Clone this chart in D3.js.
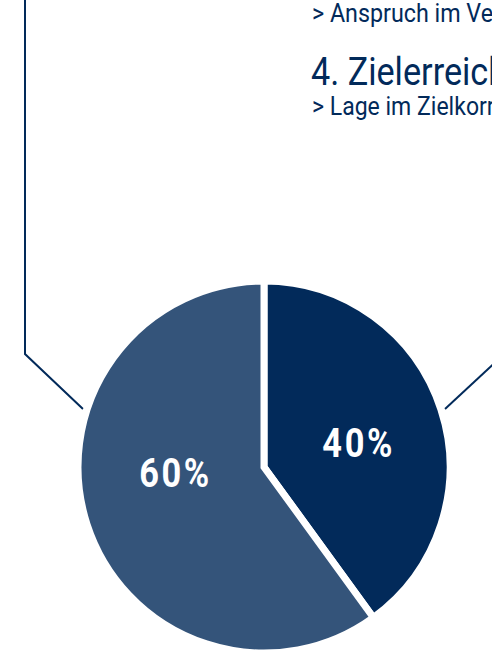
<!DOCTYPE html>
<html lang="de">
<head>
<meta charset="utf-8">
<title>Zielerreichung</title>
<script src="https://d3js.org/d3.v7.min.js"></script>
<style>
  html, body { margin: 0; padding: 0; background: #fff; }
  svg { display: block; }
  text { font-family: "Roboto", "Liberation Sans", sans-serif; }
</style>
</head>
<body>
<svg id="chart" width="492" height="650"></svg>
<script>
// data
var categories = ["Zielerreichung", "Rest"];
var values = [40, 60];
var labels = ["40%", "60%"];
var headerLines = ["> Anspruch im Vergleich", "4. Zielerreichung", "> Lage im Zielkorridor"];

var colors = ["#022a5a", "#34547a"];
var navy = "#022a5a";

var width = 492, height = 650;
var svg = d3.select("#chart");

var cx = 264, cy = 467, radius = 186;

// header text; it runs off the right edge like in the source
function header(txt, x, y, size, sx) {
  svg.append("text")
      .attr("transform", "translate(" + x + "," + y + ") scale(" + sx + ",1.04)")
      .attr("font-size", size)
      .attr("fill", navy)
      .text(txt);
}
header(headerLines[0], 312, 22, 24, 0.97);
header(headerLines[1], 311, 85, 38, 0.9);
header(headerLines[2], 312, 115, 24, 0.96);

// connector lines
var line = d3.line();
svg.append("path")
    .attr("d", line([[25, 0], [25, 354], [83, 409]]))
    .attr("fill", "none").attr("stroke", navy).attr("stroke-width", 2);
svg.append("path")
    .attr("d", line([[445, 409], [500, 358]]))
    .attr("fill", "none").attr("stroke", navy).attr("stroke-width", 2);

var pie = d3.pie().sort(null).value(function(d) { return d; });
var arc = d3.arc().innerRadius(0).outerRadius(radius);
var labelArc = d3.arc().innerRadius(0).outerRadius(radius);

var g = svg.append("g").attr("transform", "translate(" + cx + "," + cy + ")");

var slices = g.selectAll(".slice")
    .data(pie(values))
    .enter().append("g")
    .attr("class", "slice");

slices.append("path")
    .attr("d", arc)
    .attr("fill", function(d, i) { return colors[i]; })
    .attr("stroke", "#fff")
    .attr("stroke-width", 7)
    .attr("stroke-linejoin", "miter");

// labels sit near the centroid, pulled toward the horizontal mid line
var pullX = [1.07, 1.0], pullY = [0.85, 0.2];
slices.append("text")
    .attr("transform", function(d, i) {
      var c = labelArc.centroid(d);
      return "translate(" + (c[0] * pullX[i]) + "," + (c[1] * pullY[i]) + ") scale(0.86,1)";
    })
    .attr("text-anchor", "middle")
    .attr("dy", "0.36em")
    .attr("font-size", 40)
    .attr("font-weight", "bold")
    .attr("letter-spacing", 3)
    .attr("fill", "#fff")
    .text(function(d, i) { return labels[i]; });
</script>
</body>
</html>
